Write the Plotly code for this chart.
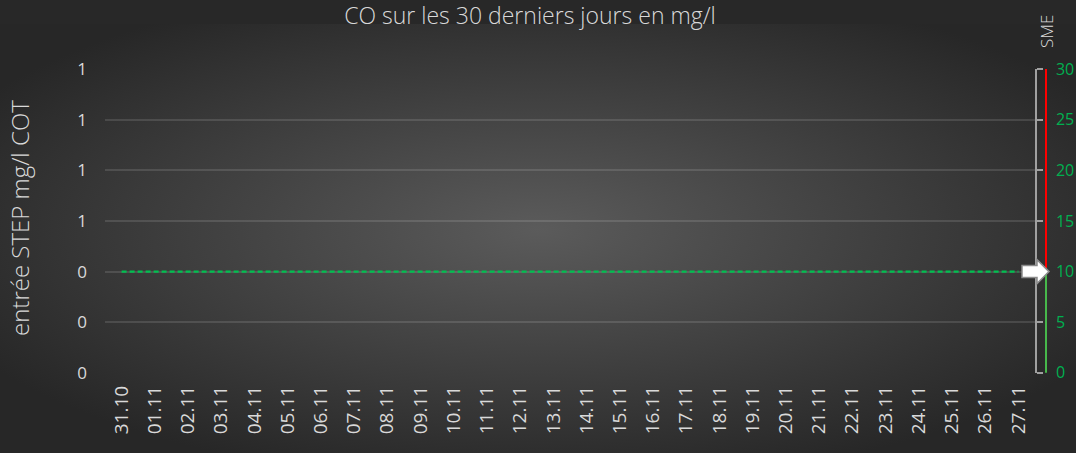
import base64
import plotly.graph_objects as go

# ---- data ----
dates = ["31.10", "01.11", "02.11", "03.11", "04.11", "05.11", "06.11", "07.11",
         "08.11", "09.11", "10.11", "11.11", "12.11", "13.11", "14.11", "15.11",
         "16.11", "17.11", "18.11", "19.11", "20.11", "21.11", "22.11", "23.11",
         "24.11", "25.11", "26.11", "27.11"]
cot_values = [None] * len(dates)
sme_limit = [10, 10, 10, 10, 10, 10, 10, 10, 10, 10, 10, 10, 10, 10,
             10, 10, 10, 10, 10, 10, 10, 10, 10, 10, 10, 10, 10, 10]
left_tickvals = [0, 0.2, 0.4, 0.6, 0.8, 1.0, 1.2]
left_ticktext = ["0", "0", "0", "1", "1", "1", "1"]
right_tickvals = [0, 5, 10, 15, 20, 25, 30]
sme_current = 10
sme_max = 30

# ---- layout geometry ----
W, H = 1076, 453
L, R, T, B = 105, 41, 69, 80
PW, PH = W - L - R, H - T - B

FONT = "Open Sans"
GREY = "#d9d9d9"
GREEN = "#00b050"

svg = (
    "<svg xmlns='http://www.w3.org/2000/svg' width='1076' height='429' "
    "viewBox='0 0 1076 429' preserveAspectRatio='none'>"
    "<defs><radialGradient id='g' cx='0.5' cy='0.48' r='0.6'>"
    "<stop offset='0' stop-color='#5b5b5b'/>"
    "<stop offset='1' stop-color='#272727'/>"
    "</radialGradient></defs>"
    "<rect width='1076' height='429' fill='url(#g)'/></svg>"
)
bg_src = "data:image/svg+xml;base64," + base64.b64encode(svg.encode()).decode()

fig = go.Figure()
fig.add_trace(go.Scatter(x=dates, y=cot_values, mode="lines", yaxis="y",
                         showlegend=False, hoverinfo="skip"))
fig.add_trace(go.Scatter(x=dates, y=sme_limit, mode="lines", yaxis="y2",
                         line=dict(color="#00c050", width=2.2, dash="5px,3px"),
                         showlegend=False))

def px_x(p):
    return (p - L) / PW

def px_y(p):
    return (H - B - p) / PH

shapes = [
    dict(type="line", xref="paper", yref="y2", x0=px_x(1046), x1=px_x(1046),
         y0=sme_current, y1=sme_max + 0.6, line=dict(color="#ff0000", width=2)),
    dict(type="line", xref="paper", yref="y2", x0=px_x(1046), x1=px_x(1046),
         y0=0, y1=sme_current, line=dict(color="#47b84b", width=2)),
    dict(type="path", xref="paper", yref="y2", xsizemode="pixel", ysizemode="pixel",
         xanchor=1, yanchor=sme_current,
         path="M -13 -6 L 2 -6 L 2 -12 L 14 0 L 2 12 L 2 6 L -13 6 Z",
         fillcolor="#ffffff", line=dict(color="#8c8c8c", width=1.5)),
]

annotations = [
    dict(text="entrée STEP mg/l COT", xref="paper", yref="paper",
         x=px_x(19), y=px_y(218), xanchor="center", yanchor="middle",
         textangle=-90, showarrow=False,
         font=dict(family=FONT, size=24, color=GREY, weight=300)),
    dict(text="SME", xref="paper", yref="paper",
         x=px_x(1046), y=px_y(32), xanchor="center", yanchor="middle",
         textangle=-90, showarrow=False,
         font=dict(family=FONT, size=17, color=GREY, weight=300)),
]

eps = 0.0006
fig.update_layout(
    width=W, height=H,
    margin=dict(l=L, r=R, t=T, b=B, autoexpand=False),
    paper_bgcolor="#282828",
    plot_bgcolor="rgba(0,0,0,0)",
    title=dict(text="CO sur les 30 derniers jours en mg/l", x=530 / W, xanchor="center",
               y=1 - 16 / H, yanchor="middle",
               font=dict(family=FONT, size=23, color=GREY, weight=300)),
    xaxis=dict(type="category", range=[-0.5, len(dates) - 0.5], showgrid=False,
               tickangle=-90, tickfont=dict(family=FONT, size=19, color=GREY),
               ticks="", showline=False, zeroline=False, ticklabelstandoff=8,
               automargin=False),
    yaxis=dict(range=[-eps, 1.2 + eps], tickvals=left_tickvals, ticktext=left_ticktext,
               showgrid=True, gridcolor="rgba(255,255,255,0.12)", gridwidth=1.5,
               zeroline=False, showline=False, ticks="", automargin=False,
               tickfont=dict(family=FONT, size=17, color=GREY), ticklabelstandoff=17),
    yaxis2=dict(range=[-eps * 25, 30 + eps * 25], tickvals=right_tickvals,
                overlaying="y", side="right", automargin=False,
                showgrid=False, zeroline=False, showline=True, linecolor="#a0a0a0",
                linewidth=1.5, ticks="outside", ticklen=6, tickcolor="#a0a0a0",
                tickwidth=1.5, tickfont=dict(family=FONT, size=16, color=GREEN),
                ticklabelstandoff=10),
    shapes=shapes,
    annotations=annotations,
    images=[dict(source=bg_src, xref="paper", yref="paper", x=px_x(0), y=px_y(24),
                 sizex=W / PW, sizey=(H - 24) / PH, sizing="stretch",
                 xanchor="left", yanchor="top", layer="below")],
)

fig.write_html("out.html", config={"displayModeBar": False},
               post_script="document.body.style.margin='0';document.body.style.overflow='hidden';")
